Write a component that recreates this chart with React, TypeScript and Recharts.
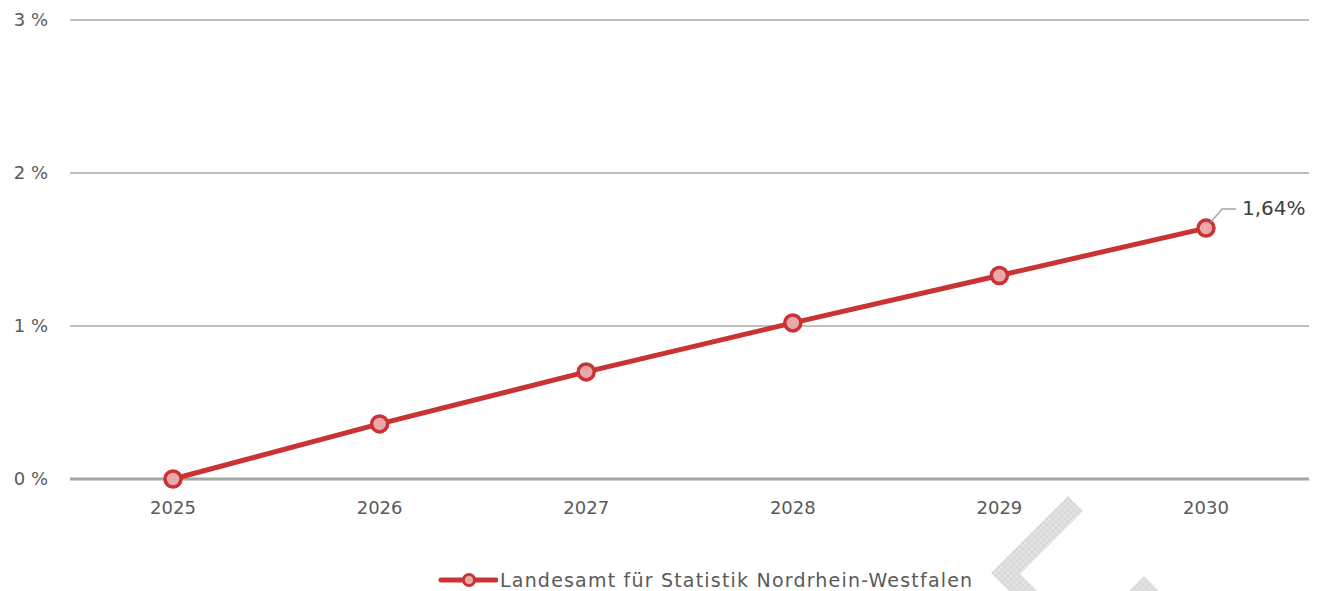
import { LineChart, Line, XAxis, YAxis, CartesianGrid, ReferenceLine, Legend } from "recharts";

const years = ["2025", "2026", "2027", "2028", "2029", "2030"];
const nrwValues = [0, 0.36, 0.7, 1.02, 1.33, 1.64];
const yTicks = [0, 1, 2, 3];
const seriesName = "Landesamt für Statistik Nordrhein-Westfalen";

const RED = "#cb3234";
const PINK = "#e9a9ab";
const FONT = "'DejaVu Sans', sans-serif";
const TEXT = "#5a5a5a";

const data = years.map((year, i) => ({ year, value: nrwValues[i] }));

function EndLabel(props: any) {
  const { x, y, index, value } = props;
  if (index !== data.length - 1) return null;
  return (
    <g>
      <polyline
        points={`${x + 5},${y - 6} ${x + 16},${y - 19} ${x + 30},${y - 19}`}
        fill="none"
        stroke="#a6a6a6"
        strokeWidth={1.5}
      />
      <text x={x + 36} y={y - 13} fill="#404040" fontSize={20} fontFamily={FONT}>
        {String(value).replace(".", ",")}%
      </text>
    </g>
  );
}

function LegendContent() {
  return (
    <div
      style={{
        height: 60,
        display: "flex",
        justifyContent: "flex-start",
        alignItems: "flex-end",
        paddingLeft: 438,
        fontFamily: FONT,
        fontSize: 19,
        letterSpacing: 1.2,
        color: TEXT,
      }}
    >
      <div style={{ display: "flex", alignItems: "center" }}>
        <svg width={60} height={16} style={{ marginRight: 2 }}>
          <line x1={3} y1={8} x2={58} y2={8} stroke={RED} strokeWidth={5} strokeLinecap="round" />
          <circle cx={31} cy={8} r={5.5} fill={PINK} stroke={RED} strokeWidth={3} />
        </svg>
        <span>{seriesName}</span>
      </div>
    </div>
  );
}

export default function App() {
  return (
    <div style={{ position: "absolute", left: 0, top: 0, width: 1319, height: 591, background: "#fff", overflow: "hidden" }}>
      <LineChart width={1319} height={591} data={data} margin={{ top: 20, right: 10, bottom: 0, left: 0 }}>
        <CartesianGrid vertical={false} stroke="#bfbfbf" strokeWidth={2} />
        <XAxis
          dataKey="year"
          padding={{ left: 103, right: 103 }}
          axisLine={false}
          tickLine={false}
          tickSize={0}
          tickMargin={22}
          height={52}
          tick={{ fill: TEXT, fontSize: 18, fontFamily: FONT }}
        />
        <YAxis
          domain={[0, 3]}
          ticks={yTicks}
          width={70}
          axisLine={false}
          tickLine={false}
          tickSize={0}
          tickMargin={22}
          tickFormatter={(v: number) => `${v} %`}
          tick={{ fill: TEXT, fontSize: 18, fontFamily: FONT }}
        />
        <ReferenceLine y={0} stroke="#a6a6a6" strokeWidth={3} />
        <Legend verticalAlign="bottom" height={60} content={<LegendContent />} />
        <Line
          dataKey="value"
          name={seriesName}
          stroke={RED}
          strokeWidth={5}
          dot={{ r: 8, fill: PINK, stroke: RED, strokeWidth: 3.5 }}
          activeDot={false}
          label={<EndLabel />}
          isAnimationActive={false}
        />
      </LineChart>
      <svg width={1319} height={591} style={{ position: "absolute", left: 0, top: 0, pointerEvents: "none" }}>
        <defs>
          <pattern id="hatch2" width="6" height="6" patternUnits="userSpaceOnUse">
            <rect width="6" height="6" fill="#e2e2e2" />
            <path d="M0,0 L6,6 M6,0 L0,6" stroke="#cdcdcd" strokeWidth={0.6} />
          </pattern>
        </defs>
        <polygon points="1068,496 1083,511 1020,574 1037,591 1009,591 991,573" fill="url(#hatch2)" />
        <polygon points="1144,576 1159,591 1129,591" fill="url(#hatch2)" />
      </svg>
    </div>
  );
}
